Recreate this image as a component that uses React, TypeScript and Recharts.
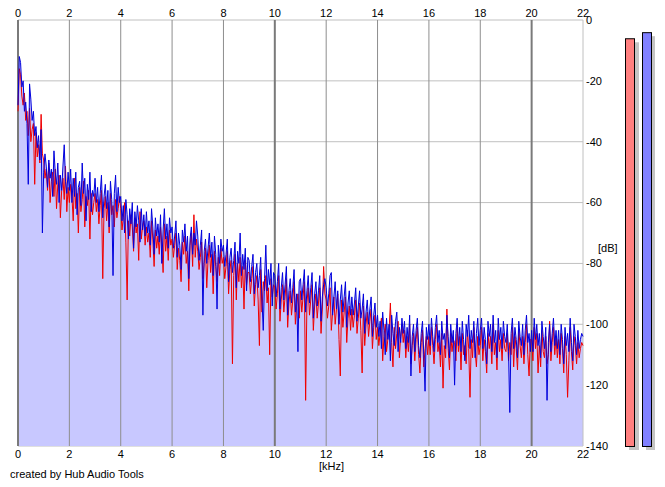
import React from "react";
import {
  ComposedChart,
  Line,
  Area,
  XAxis,
  YAxis,
  CartesianGrid,
  ReferenceLine,
  BarChart,
  Bar,
  Cell,
} from "recharts";

// Spectrum bins, 0.05 kHz apart, starting at 0 kHz
const BIN_KHZ = 0.05;

// Blue channel level per bin [dB] (20 bins per kHz)
const blueDb = [
  -28, -12, -14, -22, -20, -30, -27, -34, -54, -21, -26, -33, -30, -38, -35, -42, -38, -46, -36, -70,
  -50, -44, -48, -55, -46, -52, -49, -58, -43, -50, -54, -47, -60, -51, -56, -48, -41, -53, -57, -50,
  -56, -49, -60, -52, -58, -50, -64, -55, -53, -61, -47, -57, -52, -66, -54, -59, -50, -63, -56, -58,
  -52, -60, -55, -63, -57, -51, -65, -58, -54, -62, -56, -68, -53, -59, -84, -57, -51, -63, -55, -60,
  -58, -66, -61, -70, -59, -64, -72, -62, -67, -60, -75, -63, -68, -61, -66, -73, -62, -69, -64, -71,
  -63, -70, -66, -74, -62, -68, -77, -65, -71, -67, -73, -64, -80, -69, -62, -72, -67, -75, -65, -70,
  -68, -75, -71, -66, -78, -70, -74, -82, -69, -73, -67, -76, -71, -85, -72, -68, -77, -70, -74, -66,
  -71, -79, -74, -69, -97, -76, -72, -80, -75, -70, -78, -73, -84, -71, -77, -95, -74, -80, -72, -76,
  -74, -81, -77, -72, -86, -78, -75, -83, -79, -73, -88, -76, -80, -70, -84, -77, -82, -75, -89, -78,
  -79, -86, -81, -77, -90, -83, -80, -88, -84, -78, -92, -102, -85, -74, -89, -82, -87, -80, -94, -83,
  -84, -91, -86, -80, -95, -88, -83, -92, -87, -81, -97, -89, -85, -93, -88, -82, -96, -90, -109, -86,
  -85, -92, -87, -82, -96, -89, -84, -93, -88, -83, -98, -90, -86, -94, -89, -84, -99, -91, -87, -85,
  -88, -94, -90, -84, -83, -97, -91, -86, -95, -89, -100, -92, -87, -96, -91, -86, -101, -93, -89, -97,
  -91, -97, -93, -88, -99, -94, -89, -98, -95, -90, -103, -96, -92, -100, -95, -91, -104, -97, -93, -101,
  -97, -104, -99, -108, -96, -102, -110, -98, -105, -100, -112, -97, -103, -107, -99, -96, -109, -101, -106, -98,
  -103, -99, -108, -101, -106, -97, -117, -104, -100, -109, -102, -98, -107, -111, -103, -99, -110, -122, -101, -105,
  -100, -107, -98, -104, -109, -101, -97, -106, -102, -110, -99, -105, -103, -108, -97, -104, -111, -100, -106, -102,
  -120, -103, -98, -107, -101, -109, -99, -105, -112, -100, -104, -97, -108, -102, -106, -99, -111, -103, -98, -107,
  -102, -98, -108, -101, -105, -113, -99, -104, -100, -109, -97, -106, -102, -111, -98, -105, -101, -108, -99, -104,
  -106, -100, -109, -129, -103, -98, -108, -101, -105, -111, -99, -104, -107, -100, -110, -102, -97, -106, -103, -109,
  -102, -109, -98, -105, -100, -107, -103, -111, -99, -104, -108, -101, -125, -106, -100, -109, -103, -98, -107, -102,
  -108, -102, -110, -100, -105, -113, -101, -107, -103, -109, -98, -106, -112, -100, -104, -110, -102, -108, -105, -103,
  -104,
];

// Red channel level per bin [dB] (20 bins per kHz)
const redDb = [
  -30, -16, -18, -25, -28, -24, -33, -30, -38, -29, -40, -36, -34, -54, -37, -45, -41, -47, -31, -44,
  -46, -52, -49, -56, -47, -60, -53, -50, -58, -49, -62, -54, -51, -65, -56, -52, -59, -48, -63, -55,
  -60, -54, -58, -66, -52, -62, -57, -70, -55, -63, -59, -53, -68, -58, -61, -56, -72, -57, -64, -60,
  -57, -63, -59, -67, -61, -56, -85, -62, -58, -66, -60, -70, -57, -64, -61, -68, -59, -65, -62, -58,
  -62, -69, -65, -60, -73, -92, -66, -71, -64, -68, -76, -65, -70, -67, -79, -63, -72, -68, -66, -74,
  -68, -73, -70, -78, -66, -72, -81, -69, -75, -71, -77, -68, -74, -83, -67, -76, -71, -79, -69, -74,
  -72, -78, -74, -70, -82, -75, -79, -86, -73, -77, -71, -80, -76, -89, -74, -70, -81, -64, -78, -72,
  -76, -82, -78, -73, -85, -80, -75, -88, -79, -74, -83, -77, -90, -76, -81, -86, -78, -84, -75, -80,
  -78, -85, -81, -76, -90, -82, -79, -113, -84, -77, -92, -80, -86, -78, -88, -81, -95, -79, -87, -83,
  -83, -90, -85, -81, -94, -87, -84, -92, -107, -82, -96, -86, -89, -84, -93, -88, -110, -85, -91, -87,
  -88, -95, -90, -84, -99, -92, -87, -96, -91, -85, -101, -93, -89, -97, -92, -86, -100, -94, -90, -98,
  -89, -96, -91, -86, -125, -93, -88, -97, -92, -87, -102, -94, -90, -98, -93, -88, -103, -95, -81, -90,
  -92, -98, -94, -88, -102, -96, -91, -100, -95, -90, -105, -117, -92, -101, -96, -91, -106, -98, -94, -102,
  -95, -101, -97, -92, -103, -98, -93, -102, -116, -94, -107, -100, -96, -104, -99, -95, -108, -101, -97, -105,
  -101, -107, -103, -98, -112, -104, -100, -109, -105, -102, -93, -106, -114, -101, -108, -103, -99, -111, -104, -100,
  -106, -102, -111, -104, -109, -100, -113, -107, -103, -112, -105, -101, -110, -116, -106, -102, -114, -108, -104, -110,
  -104, -110, -101, -107, -113, -105, -100, -109, -106, -114, -103, -121, -107, -111, -95, -108, -115, -103, -109, -105,
  -106, -112, -101, -109, -104, -115, -103, -110, -107, -113, -102, -108, -124, -105, -111, -101, -109, -114, -104, -110,
  -107, -101, -112, -105, -109, -116, -103, -108, -104, -113, -100, -110, -106, -115, -102, -109, -105, -112, -103, -108,
  -109, -103, -112, -106, -110, -101, -114, -104, -108, -115, -102, -107, -111, -104, -113, -106, -100, -110, -117, -105,
  -105, -112, -101, -108, -103, -116, -107, -114, -102, -109, -111, -104, -113, -110, -99, -112, -106, -101, -110, -104,
  -111, -105, -113, -103, -108, -116, -104, -110, -124, -112, -101, -109, -115, -104, -107, -113, -106, -111, -108, -106,
  -107,
];

const kHzTicks = [0, 2, 4, 6, 8, 10, 12, 14, 16, 18, 20, 22];
const dbTicks = [0, -20, -40, -60, -80, -100, -120, -140];
const majorKHz = [0, 10, 20];

// Peak level meters (red, blue)
const meterChannels = ["L", "R"];
const meterPeaksDb = [-6, -4];
const meterColors = ["#ff8080", "#8080ff"];

const data = blueDb.map((b, i) => ({
  f: Math.round(i * BIN_KHZ * 100) / 100,
  red: redDb[i],
  blue: b,
  top: Math.max(b, redDb[i]),
}));

const meterData = meterChannels.map((c, i) => ({
  ch: c,
  range: [-140, meterPeaksDb[i]],
}));

const FONT = "'Liberation Sans', Arial, sans-serif";
const tickStyle = { fill: "#000", fontSize: 11, fontFamily: FONT };

const MeterShape = (props: any) => {
  const { x, y, width, height, fill } = props;
  return (
    <g>
      <rect x={x + 4} y={y + 4} width={width} height={height} fill="#c4c4c4" />
      <rect
        x={x + 0.5}
        y={y + 0.5}
        width={width - 1}
        height={height}
        fill={fill}
        stroke="#000"
        strokeWidth={1}
      />
    </g>
  );
};

export default function App() {
  return (
    <div
      style={{
        position: "absolute",
        left: 0,
        top: 0,
        width: 665,
        height: 487,
        background: "#fff",
        fontFamily: FONT,
      }}
    >
      <ComposedChart
        width={665}
        height={487}
        data={data}
        margin={{ top: 0, right: 42, bottom: 21, left: 18 }}
      >
        <CartesianGrid
          yAxisId="y"
          xAxisId="b"
          vertical={false}
          stroke="#c0c0c0"
          strokeDasharray=""
        />
        <XAxis
          xAxisId="t"
          orientation="top"
          type="number"
          dataKey="f"
          domain={[0, 22]}
          ticks={kHzTicks}
          height={20}
          axisLine={false}
          tickLine={false}
          tickSize={1}
          tickMargin={2}
          tick={tickStyle}
          interval={0}
        />
        <XAxis
          xAxisId="b"
          orientation="bottom"
          type="number"
          dataKey="f"
          domain={[0, 22]}
          ticks={kHzTicks}
          height={20}
          axisLine={false}
          tickLine={false}
          tickSize={2}
          tickMargin={2}
          tick={tickStyle}
          interval={0}
        />
        <YAxis
          yAxisId="y"
          orientation="right"
          type="number"
          domain={[-140, 0]}
          ticks={dbTicks}
          width={40}
          axisLine={false}
          tickLine={false}
          tickSize={1}
          tickMargin={2}
          tick={{ ...tickStyle, textAnchor: "start" }}
          interval={0}
          allowDataOverflow
        />
        <Area
          xAxisId="b"
          yAxisId="y"
          type="linear"
          dataKey="top"
          baseValue={-140}
          stroke="none"
          fill="#c8c8ff"
          fillOpacity={1}
          isAnimationActive={false}
        />
        {kHzTicks
          .filter((k) => k !== 22)
          .map((k) => (
            <ReferenceLine
              key={k}
              xAxisId="b"
              yAxisId="y"
              x={k}
              stroke={majorKHz.includes(k) ? "#7a7a7a" : "#8e8e8e"}
              strokeWidth={majorKHz.includes(k) ? 2 : 1}
            />
          ))}
        <ReferenceLine xAxisId="b" yAxisId="y" x={22} stroke="#c0c0c0" />
        <Line
          xAxisId="b"
          yAxisId="y"
          type="linear"
          dataKey="red"
          stroke="#f00000"
          strokeWidth={1}
          dot={false}
          isAnimationActive={false}
        />
        <Line
          xAxisId="b"
          yAxisId="y"
          type="linear"
          dataKey="blue"
          stroke="#0000dc"
          strokeWidth={1}
          dot={false}
          isAnimationActive={false}
        />
      </ComposedChart>

      <div style={{ position: "absolute", left: 621, top: 0 }}>
        <BarChart
          width={34}
          height={487}
          data={meterData}
          margin={{ top: 20, right: 0, bottom: 41, left: 0 }}
          barCategoryGap={0}
        >
          <XAxis dataKey="ch" hide />
          <YAxis hide type="number" domain={[-140, 0]} />
          <Bar
            dataKey="range"
            barSize={10}
            isAnimationActive={false}
            shape={<MeterShape />}
          >
            {meterData.map((d, i) => (
              <Cell key={d.ch} fill={meterColors[i]} />
            ))}
          </Bar>
        </BarChart>
      </div>

      <div
        style={{
          position: "absolute",
          left: 319,
          top: 460,
          fontSize: 11,
          color: "#000",
        }}
      >
        [kHz]
      </div>
      <div
        style={{
          position: "absolute",
          left: 598,
          top: 242,
          fontSize: 11,
          color: "#000",
        }}
      >
        [dB]
      </div>
      <div
        style={{
          position: "absolute",
          left: 10,
          top: 468,
          fontSize: 11,
          color: "#000",
        }}
      >
        created by Hub Audio Tools
      </div>
    </div>
  );
}
